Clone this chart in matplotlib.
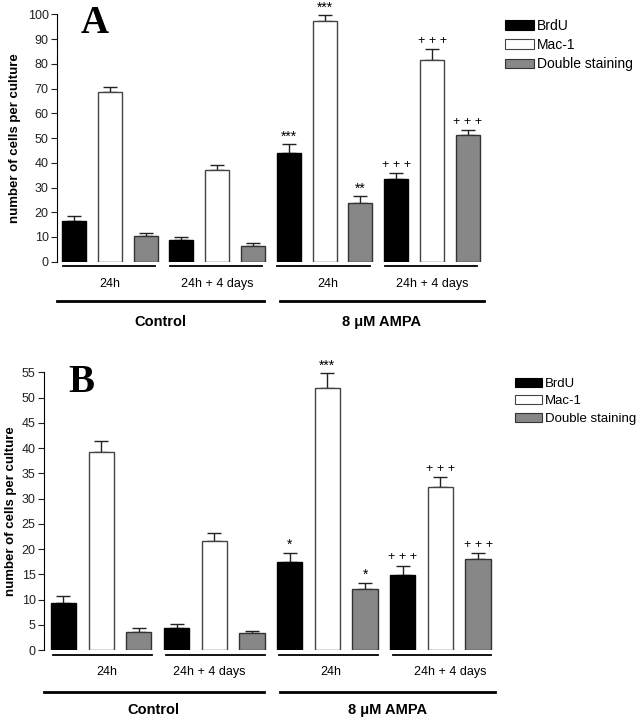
import numpy as np
import matplotlib
matplotlib.use("Agg")
import matplotlib.pyplot as plt
from matplotlib.patches import Patch

plt.rcParams['font.family'] = ['Liberation Sans', 'DejaVu Sans']

series = ["BrdU", "Mac-1", "Double staining"]
groups = ["Control 24h", "Control 24h + 4 days", "AMPA 24h", "AMPA 24h + 4 days"]
sub_labels = ["24h", "24h + 4 days", "24h", "24h + 4 days"]
main_labels = ["Control", "8 \u03bcM AMPA"]

# panel A: values per group, order BrdU, Mac-1, Double staining
a_vals = [[16.5, 68.7, 10.2], [8.6, 37.0, 6.5], [44.0, 97.3, 23.8], [33.5, 81.6, 51.1]]
a_errs = [[1.8, 2.0, 1.4], [1.4, 2.1, 0.9], [3.5, 2.4, 2.7], [2.5, 4.3, 2.3]]
a_marks = [["", "", ""], ["", "", ""], ["***", "***", "**"], ["+++", "+++", "+++"]]

# panel B
b_vals = [[9.4, 39.2, 3.5], [4.3, 21.6, 3.3], [17.5, 51.8, 12.1], [14.9, 32.2, 18.0]]
b_errs = [[1.2, 2.2, 0.8], [0.8, 1.5, 0.4], [1.7, 3.0, 1.2], [1.8, 2.1, 1.2]]
b_marks = [["", "", ""], ["", "", ""], ["*", "***", "*"], ["+++", "+++", "+++"]]

fills = ["black", "white", "#878787"]
edges = ["black", "#444444", "#333333"]


def draw_panel(ax, vals, errs, marks, ymax, ystep, letter, lay):
    vals = np.array(vals)
    errs = np.array(errs)
    for g in range(len(groups)):
        for s in range(len(series)):
            x = g * 3 + s
            ax.bar(x, vals[g, s], width=0.67, color=fills[s], edgecolor=edges[s],
                   linewidth=1.0, zorder=2)
            ax.errorbar(x, vals[g, s], yerr=[[0], [errs[g, s]]], fmt="none",
                        ecolor="#222222", elinewidth=1.0, capsize=5, capthick=1.0,
                        zorder=1)
            if marks[g][s]:
                txt = marks[g][s]
                if txt.startswith("+"):
                    txt = " ".join(txt)
                    ax.text(x, vals[g, s] + errs[g, s] + ymax * 0.008, txt,
                            ha="center", va="bottom", fontsize=9)
                else:
                    ax.text(x, vals[g, s] + errs[g, s] + ymax * 0.003, txt,
                            ha="center", va="bottom", fontsize=10)
    ax.set_xlim(lay["xl"], 11.5)
    ax.set_ylim(0, ymax)
    ax.set_yticks(np.arange(0, ymax + 0.1, ystep))
    ax.tick_params(axis="y", labelsize=9, length=4, width=0.8, pad=2,
                   colors="#222222")
    ax.set_xticks([])
    for sp in ["top", "right", "bottom"]:
        ax.spines[sp].set_visible(False)
    ax.spines["left"].set_linewidth(0.8)
    ax.set_ylabel("number of cells per culture", fontsize=9.5, fontweight="bold",
                  labelpad=lay["lp"])

    tr = ax.get_xaxis_transform()
    for g in range(len(groups)):
        x0 = g * 3 + lay["s0"]
        x1 = g * 3 + lay["s1"]
        ax.plot([x0, x1], [lay["y_sub"]] * 2, color="black", lw=1.3,
                transform=tr, clip_on=False)
        ax.text(g * 3 + lay["sub_x"][g], lay["y_sub_lab"], sub_labels[g],
                transform=tr, ha="center", va="center", fontsize=9)
    spans = [(lay["xl"], 5.31), (5.75, 11.45)]
    for (x0, x1), lab in zip(spans, main_labels):
        ax.plot([x0, x1], [lay["y_main"]] * 2, color="black", lw=2.0,
                transform=tr, clip_on=False)
        ax.text((x0 + x1) / 2, lay["y_main_lab"], lab, transform=tr,
                ha="center", va="center", fontsize=10.5, fontweight="bold")
    ax.text(lay["let_x"], lay["let_y"], letter, transform=ax.transAxes,
            ha="center", va="center", fontsize=28, fontweight="bold",
            family="Liberation Serif")

    handles = [Patch(facecolor=fills[i], edgecolor=edges[i], linewidth=0.8)
               for i in range(3)]
    ax.legend(handles, series, loc="upper left", bbox_to_anchor=lay["leg"],
              bbox_transform=ax.figure.transFigure, frameon=False,
              fontsize=lay["leg_fs"], handlelength=2.1, handleheight=0.7,
              handletextpad=0.2, labelspacing=0.38, borderpad=0,
              borderaxespad=0)


fig = plt.figure(figsize=(6.41, 7.2), dpi=100)
ax_a = fig.add_axes([0.0889, 0.6365, 0.669, 0.3435])
ax_b = fig.add_axes([0.0686, 0.0972, 0.7067, 0.3857])

lay_a = dict(xl=-0.475, lp=5, s0=-0.32, s1=2.26, y_sub=-0.018, y_sub_lab=-0.09,
             y_main=-0.159, y_main_lab=-0.245, sub_x=[1.0, 1.0, 1.1, 1.0],
             let_x=0.087, let_y=0.965, leg=(0.788, 0.974), leg_fs=10)
lay_b = dict(xl=-0.517, lp=3, s0=-0.27, s1=2.35, y_sub=-0.018, y_sub_lab=-0.079,
             y_main=-0.151, y_main_lab=-0.216, sub_x=[1.15, 0.87, 1.1, 1.25],
             let_x=0.083, let_y=0.965, leg=(0.803, 0.475), leg_fs=9.5)

draw_panel(ax_a, a_vals, a_errs, a_marks, 100, 10, "A", lay_a)
draw_panel(ax_b, b_vals, b_errs, b_marks, 55, 5, "B", lay_b)

plt.savefig("out.png", dpi=100)
